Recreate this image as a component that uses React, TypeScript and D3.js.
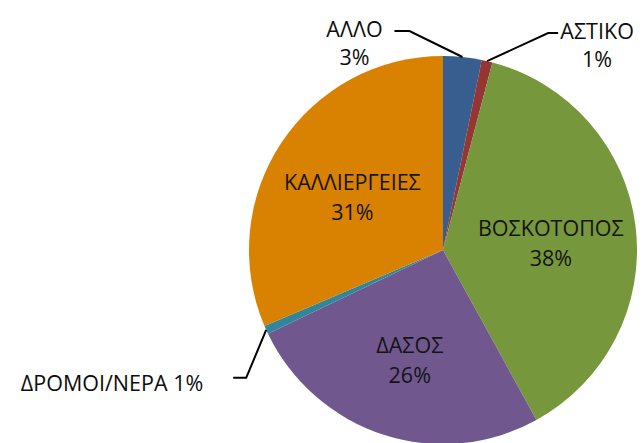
import React from "react";
import * as d3 from "d3";

const categories = ["ΑΛΛΟ", "ΑΣΤΙΚΟ", "ΒΟΣΚΟΤΟΠΟΣ", "ΔΑΣΟΣ", "ΔΡΟΜΟΙ/ΝΕΡΑ", "ΚΑΛΛΙΕΡΓΕΙΕΣ"];
const values = [3.2, 0.9, 37.9, 25.9, 0.7, 31.4];
const percentLabels = ["3%", "1%", "38%", "26%", "1%", "31%"];
const colors = ["#375E8E", "#943634", "#77973C", "#70588F", "#31869C", "#D98100"];

const W = 644;
const H = 443;
const CX = 443;
const CY = 250;
const R = 194;
const FONT = "'Open Sans', 'DejaVu Sans', sans-serif";
const FS = 21.5;

// outside label layout: elbow offset from slice edge point, horizontal tail, text anchor
const outside: Record<string, { ex: number; ey: number; tail: number; tx: number; anchor: string; oneLine?: boolean; tdy: number }> = {
  "ΑΛΛΟ": { ex: -53, ey: -26, tail: -15, tx: -40, anchor: "middle", tdy: 0 },
  "ΑΣΤΙΚΟ": { ex: 61, ey: -28, tail: 10, tx: 39, anchor: "middle", tdy: 0 },
  "ΔΡΟΜΟΙ/ΝΕΡΑ": { ex: -20, ey: 48, tail: -13, tx: -30, anchor: "end", oneLine: true, tdy: 7 },
};

export default function App() {
  const pie = d3.pie<number>().sort(null).value((d) => d).startAngle(0).endAngle(2 * Math.PI);
  const arcs = pie(values);
  const arc = d3.arc<d3.PieArcDatum<number>>().innerRadius(0).outerRadius(R);
  const labelArc = d3.arc<d3.PieArcDatum<number>>().innerRadius(R * 0.56).outerRadius(R * 0.56);
  const edgeArc = d3.arc<d3.PieArcDatum<number>>().innerRadius(R).outerRadius(R);

  return (
    <svg width={W} height={H} style={{ position: "absolute", left: 0, top: 0, background: "#fff" }}>
      <g transform={`translate(${CX},${CY})`}>
        {arcs.map((a, i) => (
          <path key={i} d={arc(a) || ""} fill={colors[i]} stroke="none" />
        ))}
        {arcs.map((a, i) => {
          const cat = categories[i];
          const o = outside[cat];
          if (o) {
            const [px, py] = edgeArc.centroid(a);
            const ex = px + o.ex;
            const ey = py + o.ey;
            const hx = ex + o.tail;
            const tx = hx + o.tx;
            return (
              <g key={i}>
                <polyline points={`${px},${py} ${ex},${ey} ${hx},${ey}`} fill="none" stroke="#000" strokeWidth={2} />
                {o.oneLine ? (
                  <text x={tx} y={ey + o.tdy} textAnchor={o.anchor} fontFamily={FONT} fontSize={FS} fill="#0d0d0d" dominantBaseline="middle">
                    {cat} {percentLabels[i]}
                  </text>
                ) : (
                  <text textAnchor={o.anchor} fontFamily={FONT} fontSize={FS} fill="#0d0d0d">
                    <tspan x={tx} y={ey + o.tdy} dominantBaseline="middle">{cat}</tspan>
                    <tspan x={tx} y={ey + o.tdy + 28} dominantBaseline="middle">{percentLabels[i]}</tspan>
                  </text>
                )}
              </g>
            );
          }
          const [lx, ly] = labelArc.centroid(a);
          return (
            <text key={i} textAnchor="middle" fontFamily={FONT} fontSize={FS} fill="#141414">
              <tspan x={lx} y={ly + 9 - 15} dominantBaseline="middle">{cat}</tspan>
              <tspan x={lx} y={ly + 9 + 15} dominantBaseline="middle">{percentLabels[i]}</tspan>
            </text>
          );
        })}
      </g>
    </svg>
  );
}
